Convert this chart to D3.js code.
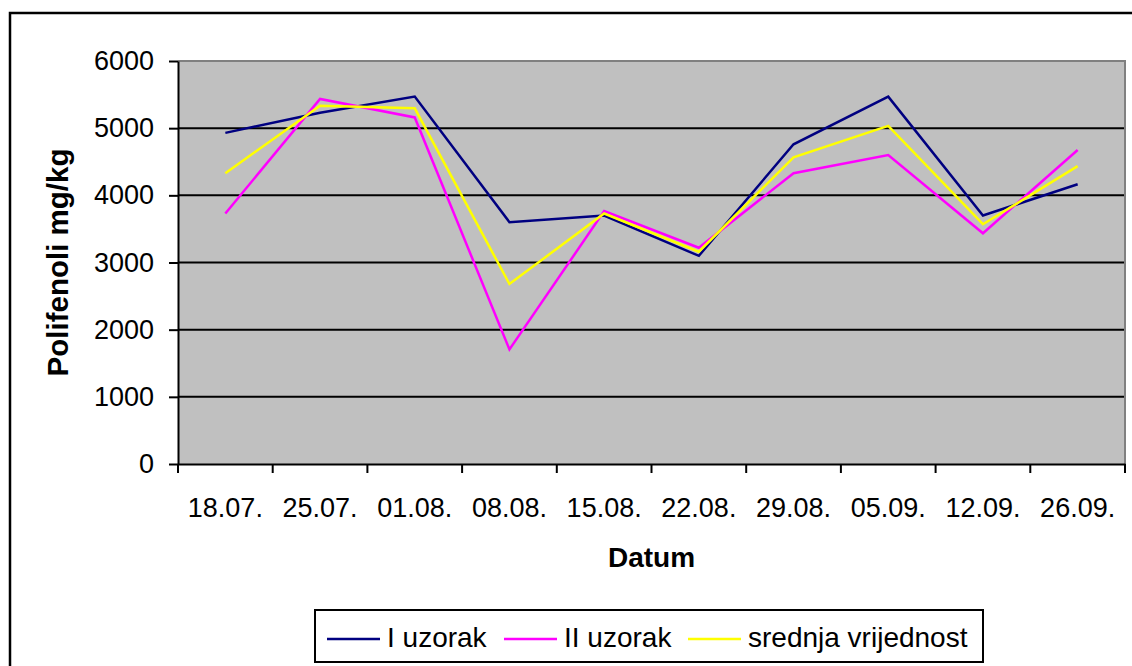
<!DOCTYPE html>
<html>
<head>
<meta charset="utf-8">
<script src="https://cdn.jsdelivr.net/npm/d3@7/dist/d3.min.js"></script>
<style>
	body { margin: 0; background: #fff; }
	text { font-family: "Liberation Sans", Arial, sans-serif; fill: #000; }
</style>
</head>
<body>
<div id="chart"></div>
<script>
/* global d3 */

var dates = ['18.07.', '25.07.', '01.08.', '08.08.', '15.08.', '22.08.', '29.08.', '05.09.', '12.09.', '26.09.'];
var uzorak1 = [4930, 5230, 5470, 3600, 3700, 3100, 4760, 5470, 3700, 4165];
var uzorak2 = [3730, 5435, 5160, 1705, 3765, 3220, 4330, 4600, 3435, 4675];
var srednja = [4330, 5335, 5295, 2680, 3730, 3160, 4565, 5035, 3570, 4435];
var yTicks = [0, 1000, 2000, 3000, 4000, 5000, 6000];
var seriesNames = ['I uzorak', 'II uzorak', 'srednja vrijednost'];
var seriesColors = ['#000080', '#ff00ff', '#ffff00'];

var buildChart = function (el) {
	'use strict';

	var W = 1132, H = 666;
	var plot = {left: 178, top: 61, right: 1125, bottom: 464};

	var svg = d3.select(el).append('svg')
		.attr('width', W)
		.attr('height', H);

	// outer frame (runs past the right and bottom of the picture)
	svg.append('rect')
		.attr('x', 10).attr('y', 13)
		.attr('width', W + 20).attr('height', H + 20)
		.attr('fill', '#fff')
		.attr('stroke', '#000')
		.attr('stroke-width', 2.5);

	var x = d3.scaleBand().domain(dates).range([plot.left, plot.right]);
	var y = d3.scaleLinear().domain([0, 6000]).range([plot.bottom, plot.top]);

	svg.append('rect')
		.attr('x', plot.left).attr('y', plot.top)
		.attr('width', plot.right - plot.left).attr('height', plot.bottom - plot.top)
		.attr('fill', '#c0c0c0');

	// gridlines
	svg.append('g').selectAll('line')
		.data(yTicks.filter(function (d) { return d > 0 && d < 6000; }))
		.enter().append('line')
			.attr('x1', plot.left).attr('x2', plot.right)
			.attr('y1', function (d) { return y(d); })
			.attr('y2', function (d) { return y(d); })
			.attr('stroke', '#000')
			.attr('stroke-width', 2);

	// top and right border in grey
	svg.append('path')
		.attr('d', 'M' + plot.left + ',' + y(6000) + 'H' + plot.right + 'V' + plot.bottom)
		.attr('fill', 'none')
		.attr('stroke', '#808080')
		.attr('stroke-width', 2);

	// y axis
	var yAxis = svg.append('g')
		.attr('transform', 'translate(' + plot.left + ',0)')
		.call(d3.axisLeft(y).tickValues(yTicks).tickFormat(d3.format('d'))
			.tickSize(9).tickPadding(15).tickSizeOuter(0));
	yAxis.select('.domain').attr('stroke', '#000').attr('stroke-width', 2);
	yAxis.selectAll('.tick line').attr('stroke', '#000').attr('stroke-width', 2);
	yAxis.selectAll('.tick text').attr('font-size', 27).attr('font-family', null);

	// x axis, ticks sit between categories
	var xAxis = svg.append('g')
		.attr('transform', 'translate(0,' + plot.bottom + ')')
		.call(d3.axisBottom(x).tickSize(0).tickPadding(34).tickSizeOuter(0));
	xAxis.select('.domain').attr('stroke', '#000').attr('stroke-width', 2);
	xAxis.selectAll('.tick text').attr('font-size', 27).attr('font-family', null);
	xAxis.selectAll('.sep')
		.data(dates.concat(['end']))
		.enter().append('line')
			.attr('class', 'sep')
			.attr('x1', function (d, i) { return plot.left + i * x.step(); })
			.attr('x2', function (d, i) { return plot.left + i * x.step(); })
			.attr('y1', 0).attr('y2', 9)
			.attr('stroke', '#000')
			.attr('stroke-width', 2);

	// series
	var line = d3.line()
		.x(function (d, i) { return x(dates[i]) + x.bandwidth() / 2; })
		.y(function (d) { return y(d); });

	[uzorak1, uzorak2, srednja].forEach(function (values, i) {
		svg.append('path')
			.attr('d', line(values))
			.attr('fill', 'none')
			.attr('stroke', seriesColors[i])
			.attr('stroke-width', 2.5)
			.attr('stroke-linejoin', 'miter');
	});

	// axis titles
	svg.append('text')
		.attr('transform', 'translate(68,' + (plot.top + plot.bottom) / 2 + ') rotate(-90)')
		.attr('text-anchor', 'middle')
		.attr('font-size', 29.5)
		.attr('font-weight', 'bold')
		.text('Polifenoli mg/kg');

	svg.append('text')
		.attr('x', (plot.left + plot.right) / 2)
		.attr('y', 567)
		.attr('text-anchor', 'middle')
		.attr('font-size', 28)
		.attr('font-weight', 'bold')
		.text('Datum');

	// legend
	var legend = svg.append('g').attr('class', 'legend');
	legend.append('rect')
		.attr('x', 315).attr('y', 610)
		.attr('width', 668).attr('height', 52)
		.attr('fill', '#fff')
		.attr('stroke', '#000')
		.attr('stroke-width', 2);

	var legendX = [327, 504, 688];
	seriesNames.forEach(function (name, i) {
		legend.append('line')
			.attr('x1', legendX[i]).attr('x2', legendX[i] + 53)
			.attr('y1', 639).attr('y2', 639)
			.attr('stroke', seriesColors[i])
			.attr('stroke-width', 2.5);
		legend.append('text')
			.attr('x', legendX[i] + 60)
			.attr('y', 647)
			.attr('font-size', 28)
			.text(name);
	});
};

buildChart('#chart');
</script>
</body>
</html>
